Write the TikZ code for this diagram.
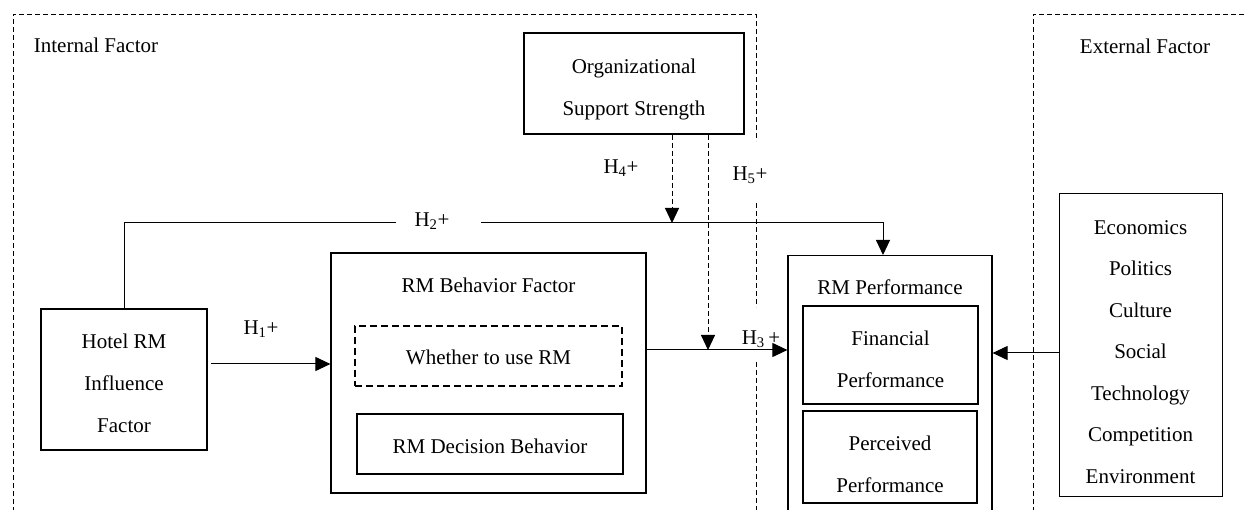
\documentclass[tikz,border=0pt]{standalone}
\usepackage{fontspec}
\setmainfont{Liberation Serif}
\usetikzlibrary{arrows.meta}
\begin{document}
\begin{tikzpicture}[x=1pt,y=-1pt,
  every node/.style={font=\fontsize{21}{42}\selectfont},
  box/.style={draw, line width=1.2pt, inner sep=0pt},
  txt/.style={align=center, inner sep=0pt},
  dbox/.style={box, line width=1.5pt, dash pattern=on 7pt off 4pt},
  frame/.style={draw, line width=0.9pt, dash pattern=on 5pt off 3pt},
  conn/.style={line width=1pt},
  arr/.style={line width=1pt, -{Triangle[length=15pt,width=14pt]}},
  darr/.style={arr, dash pattern=on 5pt off 3pt},
  lbl/.style={inner sep=1pt}
]
\clip (0,0) rectangle (1245,510);
\fill[white] (0,0) rectangle (1245,510);

% dashed frames
\draw[frame] (13,520) -- (13,14) -- (756,14) -- (756,141);
\draw[frame] (756,203) -- (756,307);
\draw[frame] (756,362) -- (756,520);
\draw[frame] (1033,520) -- (1033,14) -- (1250,14);

\node[lbl] (intl) at (96,45) {Internal Factor};
\node[lbl] (extl) at (1145,46) {External Factor};

% boxes
\node[box, minimum width=220, minimum height=101] (org) at (634,83.5) {};
\node[txt] (orgt) at (634,89.5) {Organizational\\Support Strength};
\node[box, minimum width=166, minimum height=141] (hotel) at (124,379.5) {};
\node[txt] (hotelt) at (124,383.5) {Hotel RM\\Influence\\Factor};
\node[box, minimum width=315, minimum height=240] (behav) at (488.5,373) {};
\node[lbl] (behavt) at (488.5,285) {RM Behavior Factor};
\node[dbox, minimum width=267, minimum height=60] (use) at (488.5,356) {};
\node[txt] (uset) at (488.5,357) {Whether to use RM};
\node[box, minimum width=266, minimum height=60] (dec) at (490,444) {};
\node[txt] (dect) at (490,446) {RM Decision Behavior};
\node[box, minimum width=204, minimum height=300, anchor=north] (perf) at (890,255) {};
\node[lbl] (perft) at (890,287) {RM Performance};
\node[box, minimum width=175, minimum height=98] (fin) at (890.5,355) {};
\node[txt] (fint) at (890.5,359) {Financial\\Performance};
\node[box, minimum width=174, minimum height=92] (perc) at (890,457) {};
\node[txt] (perct) at (890,464) {Perceived\\Performance};
\node[box, line width=1pt, minimum width=163, minimum height=302] (env) at (1140.5,345) {};
\node[txt, font=\fontsize{21}{41.5}\selectfont] (envt) at (1140.5,352)
  {Economics\\Politics\\Culture\\Social\\Technology\\Competition\\Environment};

% connectors
\coordinate (h1s) at (211,364);
\draw[arr] (h1s) -- (h1s -| behav.west);

\coordinate (h2a) at (396,223);
\coordinate (h2b) at (481,223);
\draw[conn] (hotel.north) |- (h2a);
\draw[arr] (h2b) -| ([xshift=-7pt]perf.north);

\coordinate (h4e) at (672,223);
\draw[darr] (org.south -| h4e) -- (h4e);

\coordinate (h5e) at (708,350);
\draw[darr] (org.south -| h5e) -- (h5e);

\coordinate (h3s) at (646,350);
\draw[arr] (h3s) -- (h3s -| perf.west);

\coordinate (exs) at (1059,353);
\draw[arr] (exs) -- (exs -| perf.east);

% labels
\node[lbl] (l1) at (261,329) {H\textsubscript{1}+};
\node[lbl] (l2) at (432,221) {H\textsubscript{2}+};
\node[lbl] (l4) at (621,168) {H\textsubscript{4}+};
\node[lbl] (l5) at (750,175) {H\textsubscript{5}+};
\node[lbl] (l3) at (761,339) {H\textsubscript{3}\,+};
\end{tikzpicture}
\end{document}
